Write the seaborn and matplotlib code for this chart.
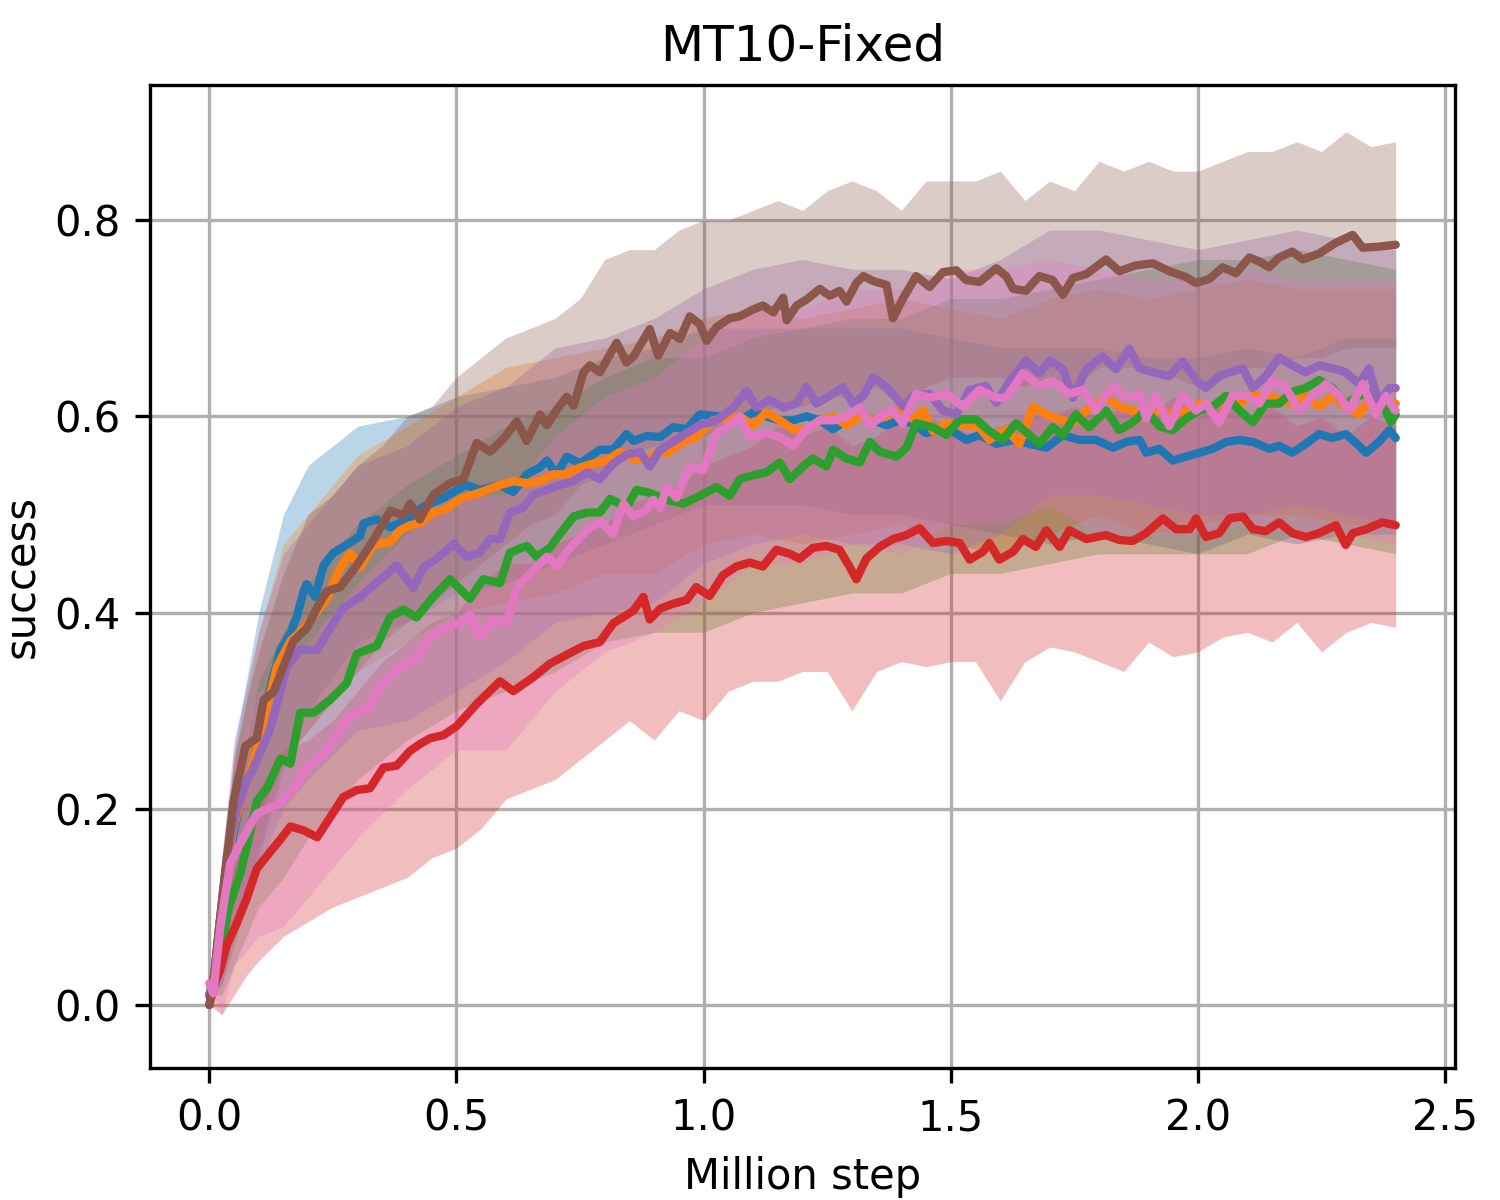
import numpy as np
import pandas as pd
import matplotlib
matplotlib.use("Agg")
import matplotlib.pyplot as plt
import seaborn as sns

# ---------------- mean curves: (million step, success) ----------------
blue_pts = [(0,0.01),(0.01,0.03),(0.02,0.08),(0.035,0.13),(0.049,0.174),(0.063,0.208),(0.076,0.229),(0.090,0.251),
    (0.117,0.311),(0.130,0.336),(0.144,0.362),(0.164,0.379),(0.177,0.396),(0.191,0.422),(0.197,0.429),(0.214,0.416),
    (0.231,0.448),(0.251,0.461),(0.271,0.467),(0.305,0.478),(0.312,0.491),(0.339,0.495),(0.366,0.487),(0.400,0.495),
    (0.433,0.508),(0.474,0.517),(0.487,0.521),(0.520,0.530),(0.547,0.525),(0.588,0.530),(0.615,0.523),(0.642,0.541),
    (0.669,0.548),(0.683,0.555),(0.703,0.541),(0.723,0.559),(0.750,0.552),(0.790,0.566),(0.817,0.566),(0.844,0.582),
    (0.858,0.575),(0.885,0.580),(0.912,0.579),(0.938,0.589),(0.966,0.587),(0.992,0.602),(1.033,0.600),(1.073,0.596),
    (1.100,0.604),(1.127,0.600),(1.154,0.596),(1.181,0.596),(1.208,0.600),(1.235,0.596),(1.262,0.587),(1.289,0.596),
    (1.316,0.600),(1.343,0.596),(1.370,0.591),(1.397,0.596),(1.424,0.593),(1.450,0.583),(1.491,0.589),(1.531,0.576),
    (1.558,0.581),(1.592,0.572),(1.626,0.576),(1.659,0.572),(1.693,0.568),(1.727,0.581),(1.760,0.576),(1.794,0.576),
    (1.828,0.568),(1.855,0.574),(1.882,0.576),(1.895,0.563),(1.922,0.567),(1.949,0.555),(1.976,0.559),(2.003,0.563),
    (2.030,0.567),(2.057,0.574),(2.084,0.576),(2.111,0.574),(2.144,0.567),(2.164,0.570),(2.191,0.563),(2.218,0.572),
    (2.245,0.582),(2.272,0.578),(2.299,0.582),(2.326,0.570),(2.340,0.563),(2.366,0.574),(2.387,0.586),(2.40,0.578)]

orange_pts = [(0,0.01),(0.01,0.03),(0.02,0.08),(0.035,0.14),(0.049,0.18),(0.063,0.208),(0.090,0.251),(0.137,0.345),
    (0.164,0.371),(0.191,0.384),(0.238,0.414),(0.258,0.439),(0.285,0.461),(0.305,0.446),(0.332,0.469),(0.366,0.472),
    (0.386,0.484),(0.406,0.489),(0.426,0.491),(0.453,0.502),(0.480,0.506),(0.507,0.516),(0.534,0.520),(0.561,0.525),
    (0.588,0.530),(0.615,0.534),(0.642,0.532),(0.669,0.534),(0.696,0.541),(0.723,0.541),(0.750,0.548),(0.777,0.552),
    (0.804,0.555),(0.831,0.564),(0.858,0.557),(0.885,0.555),(0.911,0.566),(0.925,0.562),(0.959,0.574),(0.985,0.579),
    (1.019,0.596),(1.073,0.600),(1.100,0.591),(1.127,0.604),(1.154,0.596),(1.181,0.587),(1.208,0.587),(1.235,0.596),
    (1.262,0.600),(1.289,0.591),(1.316,0.600),(1.343,0.596),(1.370,0.600),(1.390,0.606),(1.424,0.597),(1.444,0.606),
    (1.464,0.585),(1.491,0.593),(1.524,0.591),(1.558,0.589),(1.578,0.576),(1.612,0.587),(1.639,0.572),(1.666,0.610),
    (1.693,0.602),(1.720,0.597),(1.747,0.593),(1.774,0.606),(1.814,0.619),(1.841,0.610),(1.868,0.606),(1.895,0.598),
    (1.922,0.606),(1.949,0.602),(1.976,0.606),(2.003,0.613),(2.030,0.610),(2.057,0.617),(2.084,0.613),(2.111,0.621),
    (2.144,0.621),(2.164,0.617),(2.191,0.613),(2.218,0.621),(2.245,0.610),(2.272,0.621),(2.299,0.610),(2.326,0.602),
    (2.353,0.621),(2.380,0.617),(2.40,0.613)]

green_pts = [(0,0.01),(0.02,0.05),(0.04,0.10),(0.063,0.135),(0.080,0.17),(0.096,0.208),(0.117,0.221),(0.144,0.251),
    (0.164,0.246),(0.184,0.298),(0.211,0.298),(0.244,0.311),(0.278,0.328),(0.298,0.358),(0.339,0.366),(0.366,0.396),
    (0.393,0.403),(0.419,0.395),(0.453,0.416),(0.487,0.434),(0.527,0.414),(0.554,0.434),(0.588,0.430),(0.608,0.461),
    (0.642,0.468),(0.662,0.457),(0.689,0.466),(0.709,0.480),(0.737,0.498),(0.764,0.502),(0.790,0.502),(0.811,0.516),
    (0.844,0.507),(0.864,0.525),(0.891,0.522),(0.925,0.515),(0.959,0.511),(0.992,0.519),(1.026,0.528),(1.053,0.519),
    (1.073,0.536),(1.100,0.540),(1.127,0.543),(1.154,0.553),(1.174,0.536),(1.201,0.549),(1.221,0.557),(1.248,0.549),
    (1.262,0.566),(1.289,0.557),(1.316,0.553),(1.336,0.574),(1.356,0.564),(1.390,0.559),(1.410,0.568),(1.430,0.593),
    (1.464,0.589),(1.491,0.581),(1.518,0.597),(1.551,0.597),(1.578,0.585),(1.605,0.576),(1.632,0.593),(1.659,0.581),
    (1.679,0.572),(1.706,0.589),(1.727,0.581),(1.753,0.602),(1.780,0.589),(1.814,0.606),(1.841,0.586),(1.868,0.594),
    (1.895,0.606),(1.922,0.590),(1.949,0.586),(1.976,0.598),(2.003,0.606),(2.030,0.610),(2.057,0.621),(2.084,0.606),
    (2.111,0.594),(2.137,0.613),(2.164,0.613),(2.191,0.625),(2.218,0.629),(2.245,0.637),(2.272,0.629),(2.299,0.613),
    (2.326,0.621),(2.353,0.625),(2.380,0.606),(2.390,0.594),(2.40,0.602)]

red_pts = [(0,0.0),(0.01,0.02),(0.022,0.036),(0.036,0.062),(0.056,0.084),(0.076,0.109),(0.096,0.139),(0.123,0.156),
    (0.144,0.169),(0.164,0.182),(0.191,0.178),(0.218,0.171),(0.244,0.191),(0.271,0.212),(0.298,0.219),(0.325,0.221),
    (0.352,0.242),(0.379,0.244),(0.406,0.259),(0.426,0.266),(0.447,0.272),(0.473,0.275),(0.500,0.284),(0.541,0.307),
    (0.588,0.330),(0.615,0.320),(0.655,0.334),(0.689,0.348),(0.723,0.357),(0.757,0.366),(0.790,0.370),(0.817,0.389),
    (0.858,0.402),(0.878,0.416),(0.891,0.393),(0.912,0.404),(0.938,0.409),(0.966,0.413),(0.985,0.426),(1.012,0.417),
    (1.039,0.438),(1.066,0.447),(1.093,0.451),(1.120,0.447),(1.147,0.464),(1.174,0.460),(1.194,0.455),(1.221,0.466),
    (1.248,0.468),(1.275,0.464),(1.295,0.447),(1.309,0.434),(1.329,0.455),(1.356,0.467),(1.383,0.475),(1.410,0.479),
    (1.437,0.486),(1.464,0.471),(1.491,0.473),(1.518,0.471),(1.538,0.454),(1.565,0.462),(1.578,0.471),(1.598,0.454),
    (1.626,0.462),(1.646,0.475),(1.672,0.467),(1.693,0.484),(1.720,0.467),(1.740,0.484),(1.774,0.475),(1.814,0.479),
    (1.841,0.474),(1.868,0.473),(1.895,0.481),(1.929,0.496),(1.956,0.485),(1.983,0.485),(1.996,0.496),(2.016,0.477),
    (2.043,0.481),(2.064,0.496),(2.091,0.498),(2.111,0.485),(2.137,0.483),(2.164,0.492),(2.191,0.481),(2.218,0.477),
    (2.245,0.481),(2.279,0.489),(2.299,0.469),(2.313,0.481),(2.340,0.485),(2.373,0.492),(2.40,0.489)]

purple_pts = [(0,0.01),(0.01,0.03),(0.02,0.08),(0.036,0.152),(0.056,0.20),(0.076,0.229),(0.086,0.238),(0.123,0.281),
    (0.157,0.345),(0.184,0.362),(0.218,0.362),(0.238,0.379),(0.271,0.405),(0.305,0.416),(0.339,0.431),(0.379,0.448),
    (0.413,0.425),(0.433,0.446),(0.460,0.455),(0.494,0.470),(0.520,0.457),(0.547,0.461),(0.568,0.475),(0.588,0.475),
    (0.608,0.502),(0.635,0.507),(0.655,0.520),(0.683,0.525),(0.709,0.530),(0.737,0.534),(0.764,0.543),(0.790,0.536),
    (0.817,0.552),(0.844,0.561),(0.871,0.564),(0.891,0.549),(0.912,0.566),(0.938,0.574),(0.966,0.583),(0.992,0.591),
    (1.026,0.596),(1.060,0.609),(1.087,0.626),(1.107,0.609),(1.134,0.617),(1.161,0.609),(1.188,0.613),(1.208,0.630),
    (1.228,0.613),(1.255,0.621),(1.282,0.630),(1.302,0.613),(1.323,0.621),(1.343,0.640),(1.370,0.630),(1.383,0.623),
    (1.403,0.610),(1.424,0.621),(1.457,0.623),(1.484,0.606),(1.511,0.602),(1.538,0.627),(1.571,0.631),(1.592,0.614),
    (1.618,0.635),(1.652,0.657),(1.679,0.644),(1.700,0.657),(1.727,0.648),(1.747,0.619),(1.774,0.648),(1.807,0.661),
    (1.834,0.648),(1.861,0.669),(1.882,0.649),(1.909,0.645),(1.942,0.641),(1.969,0.656),(1.996,0.637),(2.016,0.629),
    (2.043,0.641),(2.064,0.645),(2.091,0.649),(2.111,0.629),(2.137,0.641),(2.164,0.660),(2.191,0.652),(2.218,0.645),
    (2.245,0.652),(2.272,0.649),(2.299,0.645),(2.326,0.633),(2.346,0.649),(2.366,0.613),(2.387,0.629),(2.40,0.629)]

brown_pts = [(0,0.0),(0.012,0.04),(0.02,0.08),(0.029,0.122),(0.049,0.208),(0.073,0.264),(0.096,0.272),(0.110,0.311),
    (0.130,0.319),(0.150,0.345),(0.170,0.371),(0.197,0.384),(0.218,0.405),(0.238,0.422),(0.265,0.426),(0.298,0.448),
    (0.332,0.474),(0.366,0.504),(0.393,0.499),(0.406,0.511),(0.426,0.495),(0.453,0.520),(0.487,0.532),(0.514,0.536),
    (0.541,0.573),(0.568,0.564),(0.595,0.577),(0.622,0.595),(0.642,0.575),(0.669,0.602),(0.683,0.591),(0.703,0.607),
    (0.723,0.620),(0.737,0.611),(0.757,0.645),(0.770,0.652),(0.790,0.645),(0.824,0.675),(0.844,0.655),(0.858,0.661),
    (0.891,0.689),(0.908,0.662),(0.932,0.685),(0.952,0.679),(0.972,0.702),(0.992,0.694),(1.006,0.677),(1.026,0.691),
    (1.053,0.700),(1.073,0.702),(1.100,0.709),(1.120,0.713),(1.141,0.706),(1.161,0.721),(1.168,0.698),(1.188,0.713),
    (1.208,0.719),(1.235,0.730),(1.255,0.723),(1.275,0.728),(1.289,0.717),(1.309,0.736),(1.323,0.743),(1.343,0.738),
    (1.370,0.734),(1.383,0.700),(1.403,0.720),(1.430,0.743),(1.457,0.732),(1.484,0.747),(1.511,0.749),(1.531,0.739),
    (1.558,0.737),(1.592,0.751),(1.612,0.743),(1.626,0.730),(1.652,0.728),(1.679,0.743),(1.706,0.739),(1.727,0.724),
    (1.747,0.741),(1.774,0.745),(1.814,0.760),(1.841,0.748),(1.875,0.754),(1.909,0.756),(1.942,0.748),(1.976,0.742),
    (1.996,0.736),(2.023,0.740),(2.050,0.752),(2.077,0.746),(2.104,0.762),(2.124,0.758),(2.144,0.752),(2.164,0.762),
    (2.191,0.768),(2.212,0.760),(2.245,0.766),(2.279,0.777),(2.313,0.785),(2.333,0.772),(2.366,0.773),(2.40,0.775)]

pink_pts = [(0,0.022),(0.008,0.012),(0.022,0.079),(0.042,0.144),(0.063,0.165),(0.096,0.195),(0.137,0.204),(0.164,0.216),
    (0.197,0.242),(0.231,0.255),(0.258,0.276),(0.285,0.294),(0.319,0.302),(0.352,0.328),(0.379,0.341),(0.413,0.352),
    (0.440,0.370),(0.473,0.384),(0.507,0.389),(0.527,0.398),(0.547,0.375),(0.574,0.393),(0.601,0.389),(0.622,0.425),
    (0.655,0.443),(0.683,0.457),(0.703,0.448),(0.730,0.466),(0.764,0.484),(0.790,0.493),(0.817,0.480),(0.838,0.511),
    (0.858,0.498),(0.885,0.505),(0.898,0.515),(0.912,0.506),(0.925,0.528),(0.945,0.517),(0.972,0.549),(0.999,0.545),
    (1.026,0.583),(1.053,0.591),(1.073,0.600),(1.093,0.579),(1.127,0.583),(1.154,0.579),(1.181,0.570),(1.208,0.587),
    (1.235,0.596),(1.262,0.596),(1.289,0.600),(1.316,0.609),(1.336,0.591),(1.370,0.604),(1.383,0.606),(1.403,0.593),
    (1.430,0.623),(1.457,0.619),(1.491,0.623),(1.524,0.610),(1.558,0.627),(1.592,0.619),(1.612,0.619),(1.646,0.644),
    (1.679,0.631),(1.706,0.636),(1.740,0.623),(1.767,0.627),(1.794,0.606),(1.828,0.631),(1.855,0.619),(1.882,0.623),
    (1.895,0.598),(1.915,0.621),(1.942,0.590),(1.969,0.621),(1.996,0.606),(2.016,0.613),(2.043,0.594),(2.070,0.621),
    (2.097,0.621),(2.124,0.613),(2.151,0.637),(2.178,0.629),(2.205,0.606),(2.232,0.621),(2.259,0.633),(2.286,0.621),
    (2.306,0.606),(2.333,0.633),(2.360,0.602),(2.380,0.621),(2.40,0.606)]

# ---------------- bands ----------------
band_x_fine = [0, 0.025, 0.05, 0.075, 0.1, 0.15, 0.2, 0.25, 0.3, 0.35, 0.4, 0.45, 0.5, 0.55, 0.6, 0.65, 0.7,
    0.75, 0.8, 0.85, 0.9, 0.95, 1.0, 1.05, 1.1, 1.15, 1.2, 1.25, 1.3, 1.35, 1.4, 1.45, 1.5, 1.55, 1.6, 1.65,
    1.7, 1.75, 1.8, 1.85, 1.9, 1.95, 2.0, 2.05, 2.1, 2.15, 2.2, 2.25, 2.3, 2.35, 2.4]

brown_hi = [0.0, 0.13, 0.25, 0.31, 0.36, 0.44, 0.50, 0.52, 0.55, 0.57, 0.60, 0.61, 0.64, 0.66, 0.68, 0.69, 0.70,
    0.72, 0.76, 0.77, 0.77, 0.79, 0.80, 0.80, 0.81, 0.82, 0.81, 0.83, 0.84, 0.83, 0.81, 0.84, 0.84, 0.84, 0.85, 0.82,
    0.84, 0.83, 0.86, 0.85, 0.86, 0.85, 0.85, 0.86, 0.87, 0.87, 0.88, 0.87, 0.89, 0.875, 0.88]
brown_lo = [0.0, 0.05, 0.12, 0.17, 0.19, 0.25, 0.28, 0.31, 0.34, 0.37, 0.39, 0.41, 0.43, 0.45, 0.47, 0.49, 0.50,
    0.53, 0.54, 0.56, 0.57, 0.58, 0.58, 0.59, 0.60, 0.61, 0.61, 0.62, 0.62, 0.63, 0.61, 0.63, 0.64, 0.64, 0.64, 0.63,
    0.64, 0.63, 0.65, 0.65, 0.65, 0.64, 0.63, 0.64, 0.65, 0.65, 0.66, 0.66, 0.67, 0.67, 0.67]
red_hi = [0.0, 0.08, 0.14, 0.18, 0.22, 0.26, 0.27, 0.29, 0.32, 0.35, 0.37, 0.39, 0.40, 0.43, 0.45, 0.45, 0.47,
    0.48, 0.49, 0.51, 0.52, 0.53, 0.55, 0.56, 0.57, 0.59, 0.58, 0.59, 0.57, 0.58, 0.60, 0.60, 0.59, 0.58, 0.59, 0.60,
    0.60, 0.61, 0.60, 0.61, 0.60, 0.62, 0.61, 0.62, 0.60, 0.61, 0.59, 0.60, 0.58, 0.60, 0.59]
red_lo = [0.0, -0.01, 0.01, 0.03, 0.045, 0.07, 0.085, 0.10, 0.11, 0.12, 0.13, 0.15, 0.16, 0.18, 0.21, 0.22, 0.23,
    0.25, 0.27, 0.29, 0.27, 0.30, 0.29, 0.32, 0.33, 0.33, 0.34, 0.34, 0.30, 0.34, 0.35, 0.345, 0.35, 0.35, 0.31, 0.35,
    0.365, 0.36, 0.35, 0.34, 0.37, 0.355, 0.36, 0.375, 0.38, 0.37, 0.39, 0.36, 0.38, 0.39, 0.385]

band_x_coarse = [0, 0.025, 0.05, 0.1, 0.15, 0.2, 0.3, 0.4, 0.5, 0.6, 0.7, 0.8, 0.9, 1.0, 1.1, 1.2, 1.3, 1.4,
    1.5, 1.6, 1.7, 1.8, 1.9, 2.0, 2.1, 2.2, 2.3, 2.4]

blue_hi = [0.01, 0.13, 0.26, 0.40, 0.50, 0.55, 0.59, 0.60, 0.62, 0.63, 0.64, 0.66, 0.67, 0.69, 0.69, 0.69, 0.69,
    0.69, 0.68, 0.67, 0.67, 0.67, 0.66, 0.66, 0.67, 0.66, 0.68, 0.68]
blue_lo = [0.01, 0.02, 0.06, 0.15, 0.24, 0.30, 0.37, 0.39, 0.42, 0.43, 0.45, 0.47, 0.49, 0.51, 0.51, 0.51, 0.50,
    0.50, 0.49, 0.48, 0.47, 0.48, 0.47, 0.46, 0.48, 0.47, 0.48, 0.48]
orange_hi = [0.01, 0.13, 0.25, 0.38, 0.47, 0.50, 0.56, 0.59, 0.62, 0.65, 0.66, 0.67, 0.68, 0.70, 0.71, 0.70, 0.71,
    0.72, 0.71, 0.70, 0.72, 0.73, 0.72, 0.73, 0.74, 0.73, 0.73, 0.73]
orange_lo = [0.01, 0.03, 0.08, 0.16, 0.25, 0.28, 0.34, 0.37, 0.40, 0.41, 0.42, 0.44, 0.44, 0.47, 0.48, 0.47, 0.48,
    0.49, 0.47, 0.46, 0.48, 0.50, 0.48, 0.49, 0.50, 0.50, 0.49, 0.49]
green_hi = [0.01, 0.10, 0.20, 0.33, 0.38, 0.43, 0.49, 0.53, 0.56, 0.59, 0.61, 0.64, 0.66, 0.66, 0.68, 0.69, 0.70,
    0.70, 0.72, 0.72, 0.73, 0.74, 0.75, 0.76, 0.76, 0.77, 0.76, 0.75]
green_lo = [0.01, 0.01, 0.04, 0.10, 0.13, 0.17, 0.23, 0.27, 0.30, 0.32, 0.34, 0.37, 0.38, 0.38, 0.40, 0.41, 0.42,
    0.42, 0.44, 0.44, 0.45, 0.46, 0.46, 0.46, 0.46, 0.48, 0.47, 0.46]
purple_hi = [0.01, 0.15, 0.27, 0.38, 0.46, 0.49, 0.55, 0.57, 0.61, 0.63, 0.67, 0.68, 0.70, 0.73, 0.75, 0.76, 0.75,
    0.75, 0.74, 0.76, 0.79, 0.79, 0.78, 0.77, 0.78, 0.79, 0.78, 0.77]
purple_lo = [0.01, 0.02, 0.08, 0.14, 0.20, 0.23, 0.28, 0.29, 0.32, 0.35, 0.39, 0.40, 0.41, 0.45, 0.47, 0.48, 0.47,
    0.47, 0.46, 0.48, 0.52, 0.52, 0.51, 0.50, 0.50, 0.51, 0.50, 0.49]
pink_hi = [0.022, 0.14, 0.24, 0.32, 0.34, 0.37, 0.43, 0.48, 0.52, 0.52, 0.58, 0.62, 0.64, 0.68, 0.71, 0.71, 0.73,
    0.73, 0.75, 0.75, 0.76, 0.75, 0.74, 0.74, 0.75, 0.74, 0.74, 0.74]
pink_lo = [0.022, -0.01, 0.04, 0.07, 0.08, 0.11, 0.17, 0.22, 0.26, 0.26, 0.32, 0.36, 0.38, 0.41, 0.45, 0.45, 0.47,
    0.46, 0.49, 0.49, 0.51, 0.48, 0.48, 0.48, 0.49, 0.48, 0.48, 0.47]

series_names = ["blue", "orange", "green", "red", "purple", "brown", "pink"]
palette = sns.color_palette("tab10")[:7]

means = [blue_pts, orange_pts, green_pts, red_pts, purple_pts, brown_pts, pink_pts]
bands = [(band_x_coarse, blue_lo, blue_hi), (band_x_coarse, orange_lo, orange_hi),
         (band_x_coarse, green_lo, green_hi), (band_x_fine, red_lo, red_hi),
         (band_x_coarse, purple_lo, purple_hi), (band_x_fine, brown_lo, brown_hi),
         (band_x_coarse, pink_lo, pink_hi)]

rows = []
for name, pts in zip(series_names, means):
    for x, y in pts:
        rows.append({"step": x, "success": y, "method": name})
df = pd.DataFrame(rows)

fig = plt.figure(figsize=(5, 4), dpi=300)
ax = fig.add_axes([0.1, 0.11, 0.87, 0.819])

for (bx, lo, hi), col in zip(bands, palette):
    ax.fill_between(bx, lo, hi, color=col, alpha=0.3, linewidth=0)

sns.lineplot(data=df, x="step", y="success", hue="method", hue_order=series_names,
             palette=palette, estimator=None, linewidth=2.0, legend=False, ax=ax,
             solid_capstyle="round")

ax.set_xlim(-0.12, 2.52)
ax.set_ylim(-0.0642, 0.9376)
ax.set_xticks([0.0, 0.5, 1.0, 1.5, 2.0, 2.5])
ax.set_yticks([0.0, 0.2, 0.4, 0.6, 0.8])
ax.grid(True, color="#b0b0b0", linewidth=0.8)
ax.set_axisbelow(True)
ax.set_xlabel("Million step", fontsize=10)
ax.set_ylabel("success", fontsize=10, labelpad=3)
ax.set_title("MT10-Fixed", fontsize=12)
ax.tick_params(labelsize=10)

fig.savefig("out.png", dpi=300)
